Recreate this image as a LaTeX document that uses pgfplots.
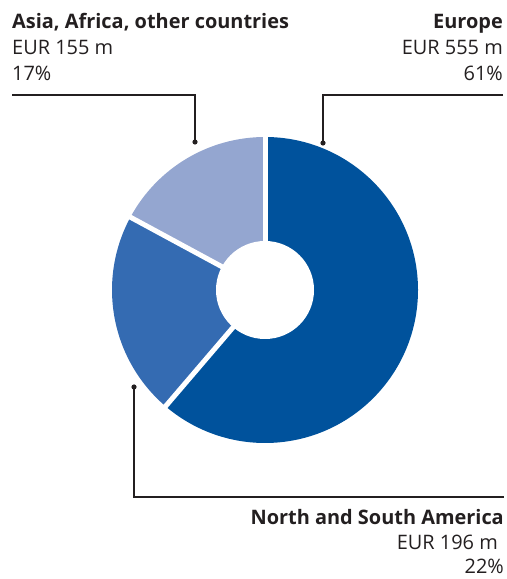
\documentclass[border=0pt]{standalone}
\usepackage{pgfplots}
\pgfplotsset{compat=1.18}
\usepackage{fontspec}
\setmainfont{Open Sans}
\definecolor{cEU}{RGB}{0,82,156}
\definecolor{cAM}{RGB}{52,107,178}
\definecolor{cAS}{RGB}{148,166,208}
\definecolor{txt}{RGB}{35,31,32}
% values, EUR m
\def\vEU{555}
\def\vAM{196}
\def\vAS{155}
\pgfmathsetmacro{\tot}{\vEU+\vAM+\vAS}
\pgfmathsetmacro{\aA}{90}
\pgfmathsetmacro{\aB}{90-360*(\vEU/\tot)}
\pgfmathsetmacro{\aC}{\aB-360*(\vAM/\tot)}
\pgfmathsetmacro{\aD}{\aC-360*(\vAS/\tot)}
\def\cx{265}\def\cy{289}
\def\ro{153bp}\def\ri{49bp}
\def\fs{\fontsize{20}{24}\selectfont}
\begin{document}
\begin{tikzpicture}
\begin{axis}[x=1bp,y=1bp,xmin=0,xmax=507,ymin=0,ymax=579,hide axis,clip=false,
  scale only axis]
\path (axis cs:0,0) rectangle (axis cs:507,579);
\fill[cEU] (axis cs:\cx,\cy) -- ++(\aA:\ro) arc[start angle=\aA,end angle=\aB,radius=\ro] -- cycle;
\fill[cAM] (axis cs:\cx,\cy) -- ++(\aB:\ro) arc[start angle=\aB,end angle=\aC,radius=\ro] -- cycle;
\fill[cAS] (axis cs:\cx,\cy) -- ++(\aC:\ro) arc[start angle=\aC,end angle=\aD,radius=\ro] -- cycle;
\pgfplotsinvokeforeach{\aA,\aB,\aC}{
  \draw[white,line width=5bp] (axis cs:\cx,\cy) -- ++(#1:155bp);
}
\fill[white] (axis cs:\cx,\cy) circle[radius=\ri];
% leader lines
\draw[txt,line width=1.2bp] (axis cs:12,484) -- (axis cs:195,484) -- (axis cs:195,437);
\fill[txt] (axis cs:195,437) circle[radius=2.6bp];
\draw[txt,line width=1.2bp] (axis cs:503,484) -- (axis cs:323,484) -- (axis cs:323,436);
\fill[txt] (axis cs:323,436) circle[radius=2.6bp];
\draw[txt,line width=1.2bp] (axis cs:134,192) -- (axis cs:134,82) -- (axis cs:504,82);
\fill[txt] (axis cs:134,192) circle[radius=2.6bp];
% labels
\node[anchor=base west,inner sep=0pt,text=txt,font=\fs\bfseries] at (axis cs:12,550) {Asia, Africa, other countries};
\node[anchor=base west,inner sep=0pt,text=txt,font=\fs] at (axis cs:12,524) {EUR 155 m};
\node[anchor=base west,inner sep=0pt,text=txt,font=\fs] at (axis cs:12,498) {17\%};
\node[anchor=base east,inner sep=0pt,text=txt,font=\fs\bfseries] at (axis cs:503,550) {Europe};
\node[anchor=base east,inner sep=0pt,text=txt,font=\fs] at (axis cs:503,524) {EUR 555 m};
\node[anchor=base east,inner sep=0pt,text=txt,font=\fs] at (axis cs:503,498) {61\%};
\node[anchor=base east,inner sep=0pt,text=txt,font=\fs\bfseries] at (axis cs:504,54) {North and South America};
\node[anchor=base east,inner sep=0pt,text=txt,font=\fs] at (axis cs:498,29) {EUR 196 m};
\node[anchor=base east,inner sep=0pt,text=txt,font=\fs] at (axis cs:504,5) {22\%};
\end{axis}
\end{tikzpicture}
\end{document}
